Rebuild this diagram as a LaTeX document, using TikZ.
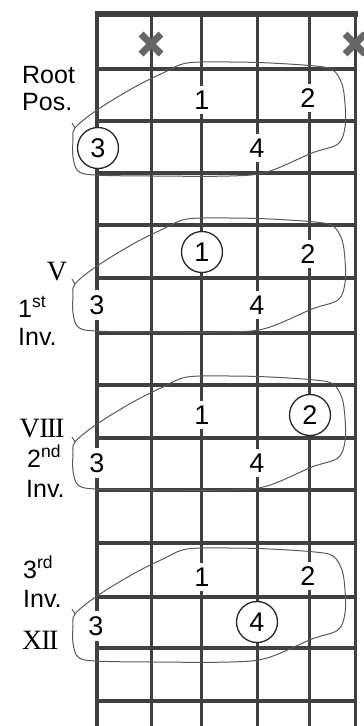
\documentclass[tikz,border=0pt]{standalone}
\usepackage{fontspec}
\setmainfont{Liberation Sans}
\newfontfamily\romanfont{Liberation Serif}

\begin{document}
\begin{tikzpicture}[x=1pt, y=-1pt,
  gtstring/.style={line width=3pt, black!75},
  fret/.style={line width=3.4pt, black!75},
  mute/.style={line width=7pt, black!60},
  finger/.style={fill=white, inner sep=5pt, font=\fontsize{27}{27}\selectfont},
  ringed/.style={finger, circle, draw=black!85, line width=1.3pt, minimum size=41pt, inner sep=0pt},
  posname/.style={anchor=base west, inner sep=0pt, font=\fontsize{25}{27}\selectfont},
  fretno/.style={anchor=base, inner sep=0pt, font=\romanfont\fontsize{28}{28}\selectfont},
  shape loop/.style={black!65, line width=1pt},
  chord loop/.pic={
    \draw[shape loop] plot[smooth cycle, tension=0.55] coordinates {(75,59) (97,41) (133,19) (163,4) (187,-6) (230,-7) (270,-6) (315,-3) (333,1) (342,15) (345,35) (345,58) (338,75) (312,84) (267,103) (230,107) (150,107) (95,106) (78,102) (73,88) (73,72)};
    \draw[shape loop] (75,59) -- (72,54);
  }]
  \useasboundingbox (0,0) rectangle (364,726);

  % Strings
  \foreach \x in {151,201,257,309,355}
    \draw[gtstring] (\x,14) -- (\x,726);
  \draw[gtstring, line width=4pt] (97,14) -- (97,726);

  % Frets and nut
  \foreach \y in {69,121,173,225,278,333,385,438,490,543,597,648,701}
    \draw[fret] (95.5,\y) -- (356.5,\y);
  \draw[line width=5.5pt, black!75] (95,14) -- (358,14);

  % Muted strings
  \foreach \x in {151,355} {
    \draw[mute] (\x-10,34) -- (\x+10,54);
    \draw[mute] (\x-10,54) -- (\x+10,34);
  }

  % Root position
  \node[posname] (root) at (22,83) {Root};
  \node[posname] (pos) at (22,110) {Pos.};
  \node[finger] (rp1) at (202,100) {1};
  \node[finger] (rp2) at (308,98) {2};
  \node[ringed] (rp3) at (98,148) {3};
  \node[finger] (rp4) at (257,148) {4};
  \pic at (0,69) {chord loop};

  % 1st inversion
  \node[fretno] (v) at (57,280) {V};
  \node[posname] (first) at (18,317) {1\textsuperscript{st}};
  \node[posname] (inva) at (18,345) {Inv.};
  \node[ringed] (fi1) at (202,252) {1};
  \node[finger] (fi2) at (308,254) {2};
  \node[finger] (fi3) at (97,305) {3};
  \node[finger] (fi4) at (257,305) {4};
  \pic at (0,225) {chord loop};

  % 2nd inversion
  \node[fretno] (viii) at (42,437) {V\kern-.5pt I\kern-1.5pt I\kern-1.5pt I};
  \node[posname] (second) at (27,467) {2\textsuperscript{nd}};
  \node[posname] (invb) at (26,497) {Inv.};
  \node[finger] (si1) at (202,415) {1};
  \node[ringed] (si2) at (310,415) {2};
  \node[finger] (si3) at (97,463) {3};
  \node[finger] (si4) at (257,463) {4};
  \pic at (0,383) {chord loop};

  % 3rd inversion
  \node[posname] (third) at (23,578) {3\textsuperscript{rd}};
  \node[posname] (invc) at (23,607) {Inv.};
  \node[fretno, anchor=base west] (xii) at (22,649) {X\kern-1pt I\kern-1.5pt I};
  \node[finger] (ti1) at (202,577) {1};
  \node[finger] (ti2) at (308,576) {2};
  \node[finger] (ti3) at (96,626) {3};
  \node[ringed] (ti4) at (257,622) {4};
  \pic at (0,555) {chord loop};
\end{tikzpicture}
\end{document}
